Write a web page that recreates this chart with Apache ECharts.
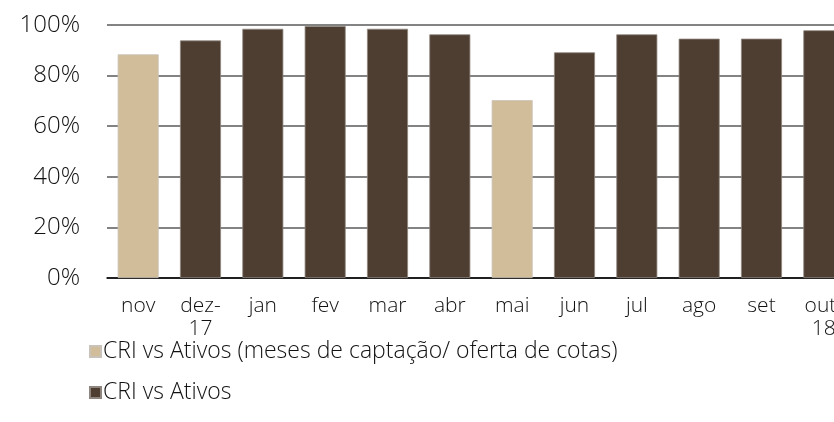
<!DOCTYPE html>
<html>
<head>
<meta charset="utf-8">
<script src="https://cdn.jsdelivr.net/npm/echarts@6/dist/echarts.min.js"></script>
<style>
html,body{margin:0;padding:0;background:#fff;}
#chart{width:834px;height:422px;}
</style>
</head>
<body>
<div id="chart"></div>
<script>
const categories = ['nov', 'dez-\n17', 'jan', 'fev', 'mar', 'abr', 'mai', 'jun', 'jul', 'ago', 'set', 'out-\n18'];
const seriesNames = ['CRI vs Ativos (meses de captação/ oferta de cotas)', 'CRI vs Ativos'];
const captacaoValues = [88.4, null, null, null, null, null, 70.3, null, null, null, null, null];
const ativosValues = [null, 93.9, 98.5, 99.6, 98.5, 96.3, null, 89.2, 96.3, 94.6, 94.6, 97.9];
const yTicks = [0, 20, 40, 60, 80, 100];

const FONT = '"Open Sans", sans-serif';
const TXT = '#111111';
const legendText = {fontFamily: FONT, fontWeight: 300, fontSize: 23, color: TXT, padding: [0, 0, 0, -3]};
const chart = echarts.init(document.getElementById('chart'), null, {renderer: 'canvas'});
chart.setOption({
  animation: false,
  backgroundColor: '#ffffff',
  grid: {left: 107, width: 748, top: 25, height: 253, containLabel: false, outerBoundsMode: 'none'},
  legend: [
    {
      left: 84, top: 335, itemWidth: 11, itemHeight: 11, icon: 'rect',
      textStyle: legendText, data: [seriesNames[0]]
    },
    {
      left: 84, top: 376, itemWidth: 11, itemHeight: 11, icon: 'rect',
      textStyle: legendText, data: [seriesNames[1]]
    }
  ],
  xAxis: {
    type: 'category',
    data: categories,
    axisLine: {show: true, lineStyle: {color: '#000', width: 1.5}},
    axisTick: {show: false},
    axisLabel: {fontFamily: FONT, fontWeight: 300, fontSize: 21, color: TXT, margin: 17, lineHeight: 23, interval: 0}
  },
  yAxis: {
    type: 'value',
    min: yTicks[0],
    max: yTicks[yTicks.length - 1],
    interval: 20,
    axisLine: {show: false},
    axisTick: {show: false},
    splitLine: {show: true, lineStyle: {color: '#5a5a5a', width: 1.5}},
    axisLabel: {fontFamily: FONT, fontWeight: 300, fontSize: 24, color: TXT, margin: 27, formatter: v => v + '%'}
  },
  series: [
    {
      name: seriesNames[0], type: 'bar', data: captacaoValues,
      barWidth: 41, barGap: '-100%',
      itemStyle: {color: '#D1BD9A', borderColor: '#c8c2b8', borderWidth: 0.8}
    },
    {
      name: seriesNames[1], type: 'bar', data: ativosValues,
      barWidth: 41, barGap: '-100%',
      itemStyle: {color: '#4E3D31', borderColor: '#8e867e', borderWidth: 0.8}
    }
  ]
});
</script>
</body>
</html>
